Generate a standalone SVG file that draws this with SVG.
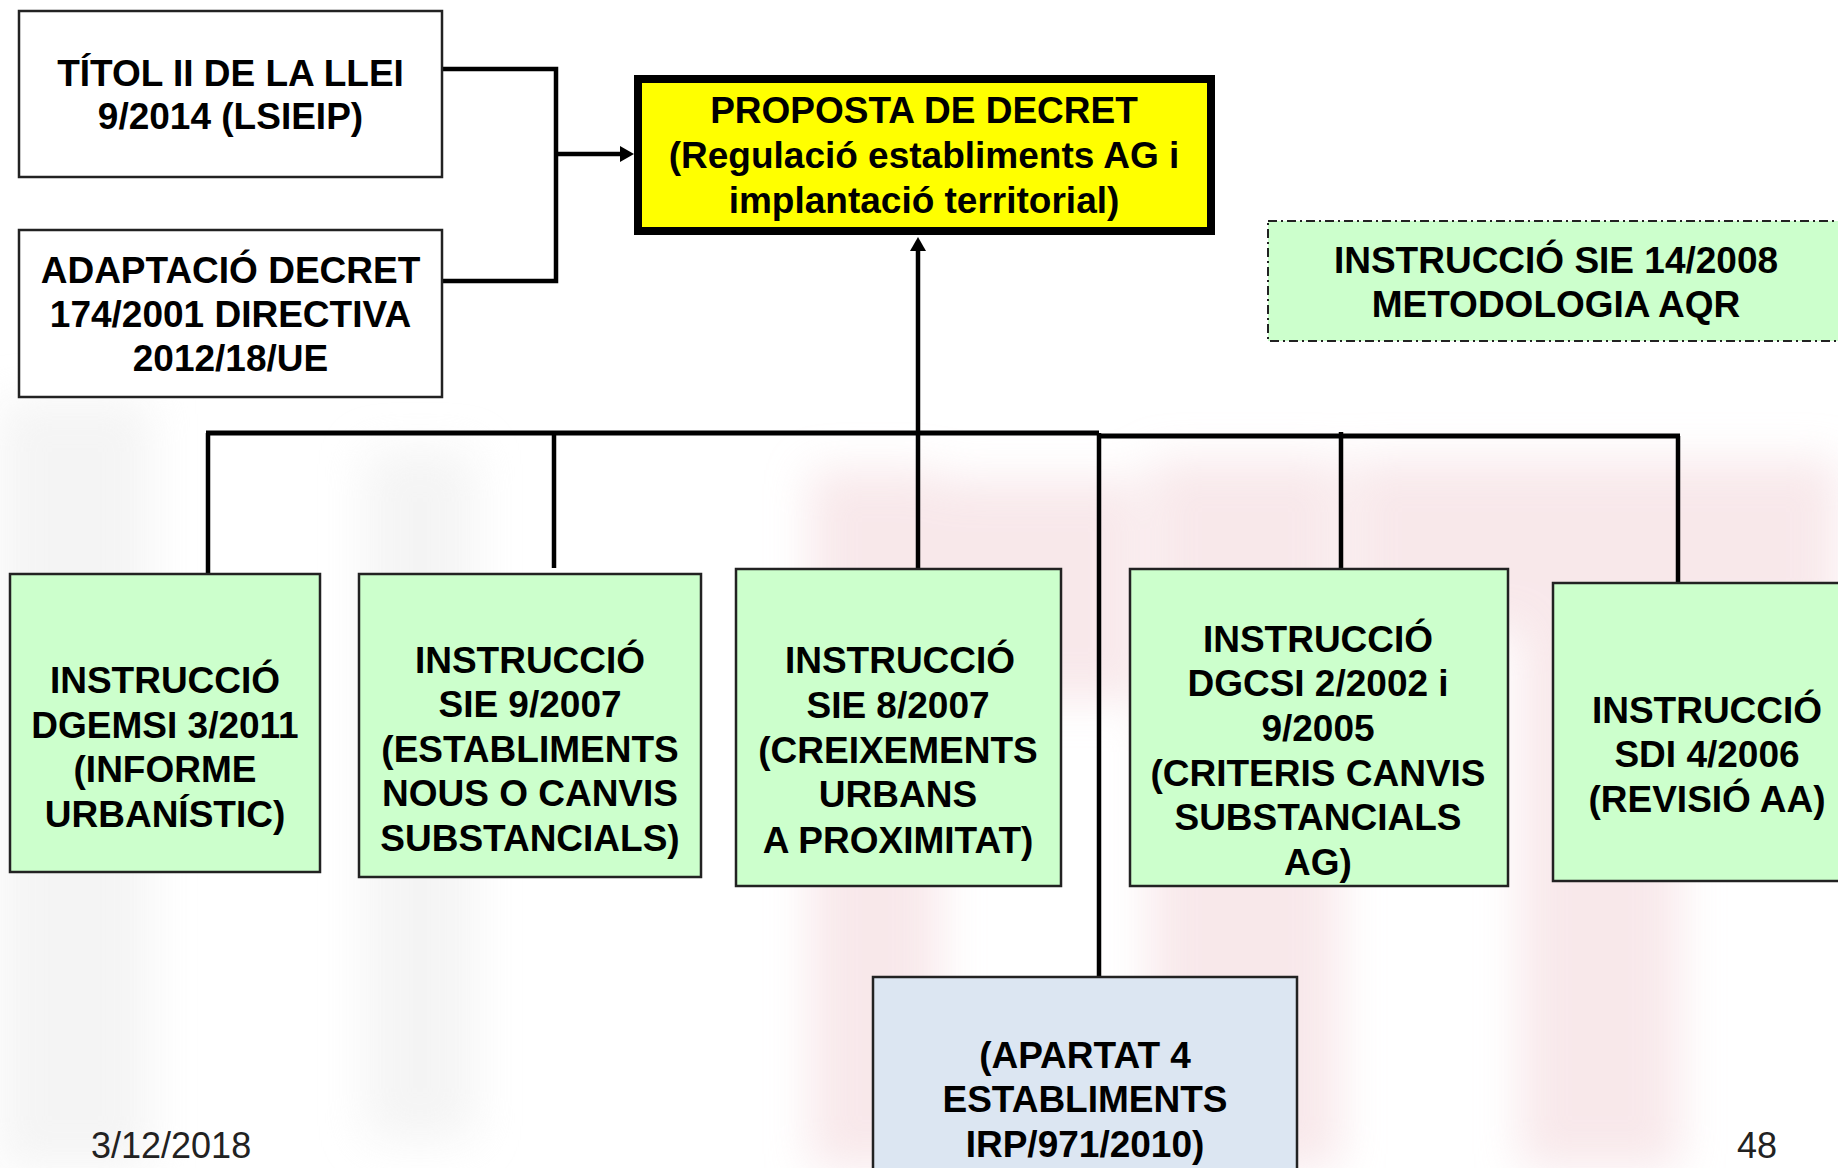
<svg xmlns="http://www.w3.org/2000/svg" width="1838" height="1168" viewBox="0 0 1838 1168">
<defs>
<style>
.t{font-family:"Liberation Sans",Arial,sans-serif;font-weight:bold;font-size:37px;fill:#000;text-anchor:middle}
.f{font-family:"Liberation Sans",Arial,sans-serif;font-size:36px;fill:#222}
.wbox{fill:#fff;stroke:#222;stroke-width:2.5}
.gbox{fill:#ccffcc;stroke:#222;stroke-width:2.5}
.bbox{fill:#dce6f2;stroke:#222;stroke-width:2.5}
.ln{fill:none;stroke:#000;stroke-width:4.5;stroke-linejoin:miter}
.wm{fill:#f3d6da}
.wg{fill:#ececec}
</style>
<filter id="blur" x="-30%" y="-30%" width="160%" height="160%"><feGaussianBlur stdDeviation="22"/></filter>
<marker id="ah" markerUnits="userSpaceOnUse" markerWidth="16" markerHeight="18" refX="4" refY="8" orient="auto" viewBox="0 0 16 16">
<path d="M0,0 L14,8 L0,16 z" fill="#000"/>
</marker>
</defs>
<rect width="1838" height="1168" fill="#fff"/>
<g id="watermark" filter="url(#blur)" opacity="0.55">
<rect class="wg" x="0" y="400" width="150" height="768"/>
<rect class="wg" x="365" y="450" width="110" height="690"/>
<rect class="wm" x="810" y="470" width="130" height="698"/>
<rect class="wm" x="940" y="480" width="200" height="220"/>
<rect class="wm" x="1150" y="460" width="190" height="708"/>
<rect class="wm" x="1350" y="460" width="488" height="170"/>
<rect class="wm" x="1520" y="630" width="160" height="538"/>
</g>
<g id="connectors">
<polyline class="ln" points="442,69 556,69 556,281 442,281"/>
<line class="ln" x1="556" y1="154" x2="624" y2="154" marker-end="url(#ah)"/>
<line class="ln" x1="918" y1="433" x2="918" y2="247" marker-end="url(#ah)"/>
<line class="ln" x1="206" y1="433" x2="1099" y2="433" style="stroke-width:5"/>
<line class="ln" x1="1099" y1="436" x2="1680" y2="436" style="stroke-width:5"/>
<line class="ln" x1="208" y1="433" x2="208" y2="574"/>
<line class="ln" x1="554" y1="433" x2="554" y2="568"/>
<line class="ln" x1="918" y1="433" x2="918" y2="569"/>
<line class="ln" x1="1099" y1="433" x2="1099" y2="977"/>
<line class="ln" x1="1341" y1="432" x2="1341" y2="569"/>
<line class="ln" x1="1678" y1="436" x2="1678" y2="583"/>
</g>
<g id="titol">
<rect class="wbox" x="19" y="11" width="423" height="166"/>
<text class="t" x="230.5" y="86">TÍTOL II DE LA LLEI</text>
<text class="t" x="230.5" y="129">9/2014 (LSIEIP)</text>
</g>
<g id="adaptacio">
<rect class="wbox" x="19" y="230" width="423" height="167"/>
<text class="t" x="230.5" y="283">ADAPTACIÓ DECRET</text>
<text class="t" x="230.5" y="327">174/2001 DIRECTIVA</text>
<text class="t" x="230.5" y="371">2012/18/UE</text>
</g>
<g id="proposta">
<rect x="638" y="79" width="573" height="152" fill="#ffff00" stroke="#000" stroke-width="8"/>
<text class="t" x="924" y="123">PROPOSTA DE DECRET</text>
<text class="t" x="924" y="168">(Regulació establiments AG i</text>
<text class="t" x="924" y="213">implantació territorial)</text>
</g>
<g id="sie14">
<rect x="1268" y="221" width="620" height="120" fill="#ccffcc" stroke="#222" stroke-width="2" stroke-dasharray="9 4 2 4"/>
<text class="t" x="1556" y="273">INSTRUCCIÓ SIE 14/2008</text>
<text class="t" x="1556" y="317">METODOLOGIA AQR</text>
</g>
<g id="dgemsi">
<rect class="gbox" x="10" y="574" width="310" height="298"/>
<text class="t" x="165" y="693">INSTRUCCIÓ</text>
<text class="t" x="165" y="738">DGEMSI 3/2011</text>
<text class="t" x="165" y="782">(INFORME</text>
<text class="t" x="165" y="827">URBANÍSTIC)</text>
</g>
<g id="sie9">
<rect class="gbox" x="359" y="574" width="342" height="303"/>
<text class="t" x="530" y="673">INSTRUCCIÓ</text>
<text class="t" x="530" y="717">SIE 9/2007</text>
<text class="t" x="530" y="762">(ESTABLIMENTS</text>
<text class="t" x="530" y="806">NOUS O CANVIS</text>
<text class="t" x="530" y="851">SUBSTANCIALS)</text>
</g>
<g id="sie8">
<rect class="gbox" x="736" y="569" width="325" height="317"/>
<text class="t" x="900" y="673">INSTRUCCIÓ</text>
<text class="t" x="898" y="718">SIE 8/2007</text>
<text class="t" x="898" y="763">(CREIXEMENTS</text>
<text class="t" x="898" y="807">URBANS</text>
<text class="t" x="898" y="853">A PROXIMITAT)</text>
</g>
<g id="dgcsi">
<rect class="gbox" x="1130" y="569" width="378" height="317"/>
<text class="t" x="1318" y="652">INSTRUCCIÓ</text>
<text class="t" x="1318" y="696">DGCSI 2/2002 i</text>
<text class="t" x="1318" y="741">9/2005</text>
<text class="t" x="1318" y="786">(CRITERIS CANVIS</text>
<text class="t" x="1318" y="830">SUBSTANCIALS</text>
<text class="t" x="1318" y="875">AG)</text>
</g>
<g id="sdi">
<rect class="gbox" x="1553" y="583" width="330" height="298"/>
<text class="t" x="1707" y="723">INSTRUCCIÓ</text>
<text class="t" x="1707" y="767">SDI 4/2006</text>
<text class="t" x="1707" y="812">(REVISIÓ AA)</text>
</g>
<g id="apartat4">
<rect class="bbox" x="873" y="977" width="424" height="220"/>
<text class="t" x="1085" y="1068">(APARTAT 4</text>
<text class="t" x="1085" y="1112">ESTABLIMENTS</text>
<text class="t" x="1085" y="1157">IRP/971/2010)</text>
</g>
<g id="footer">
<text class="f" x="91" y="1158">3/12/2018</text>
<text class="f" x="1737" y="1158">48</text>
</g>
</svg>
